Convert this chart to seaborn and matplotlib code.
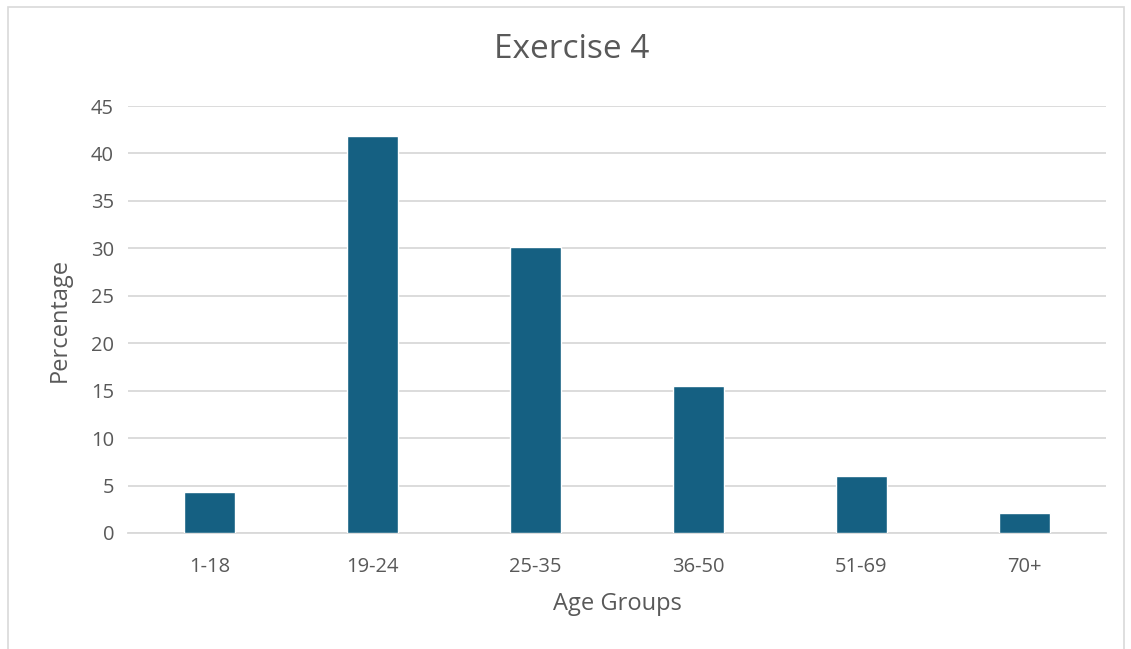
import matplotlib
matplotlib.use("Agg")
import matplotlib.pyplot as plt
import seaborn as sns
import pandas as pd
from matplotlib.patches import Rectangle

# Share of respondents per age group
age_groups = ["1-18", "19-24", "25-35", "36-50", "51-69", "70+"]
percentages = [4.3, 41.8, 30.1, 15.5, 6.0, 2.1]
y_ticks = [0, 5, 10, 15, 20, 25, 30, 35, 40, 45]

df = pd.DataFrame({"Age Groups": age_groups, "Percentage": percentages})

sns.set_theme(style="white")
plt.rcParams["font.family"] = ["Open Sans", "DejaVu Sans"]

W, H, DPI = 1131, 649, 100
fig = plt.figure(figsize=(W / DPI, H / DPI), dpi=DPI)
ax = fig.add_axes([128 / W, 1 - 533 / H, (1106 - 128) / W, (533 - 106) / H])

text_color = "#595959"
grid_color = "#D9D9D9"

sns.barplot(data=df, x="Age Groups", y="Percentage", color="#156082",
            width=0.31, saturation=1, ax=ax, zorder=3)

ax.set_ylim(0, 45)
ax.set_xlim(-0.5, len(age_groups) - 0.5)
ax.set_yticks(y_ticks)
ax.yaxis.grid(True, color=grid_color, linewidth=1.3, zorder=0)
ax.set_axisbelow(True)
for side in ["top", "right", "left"]:
    ax.spines[side].set_visible(False)
ax.spines["bottom"].set_color(grid_color)
ax.spines["bottom"].set_linewidth(1.3)
ax.tick_params(axis="both", length=0, labelsize=14.5, colors=text_color)
ax.tick_params(axis="x", pad=17)
ax.tick_params(axis="y", pad=10)

ax.set_xlabel("Age Groups", fontsize=17, color=text_color, labelpad=11)
ax.set_ylabel("Percentage", fontsize=17, color=text_color, labelpad=14)

fig.text(572 / W, 1 - 50 / H, "Exercise 4", ha="center", va="center",
         fontsize=24, color=text_color)

# Light chart-area frame
fig.patches.append(Rectangle((8 / W, -0.05), (1124 - 8) / W, 1 - 7 / H + 0.05,
                             transform=fig.transFigure, fill=False,
                             edgecolor="#D9D9D9", linewidth=1.2))

fig.savefig("out.png", dpi=DPI)
